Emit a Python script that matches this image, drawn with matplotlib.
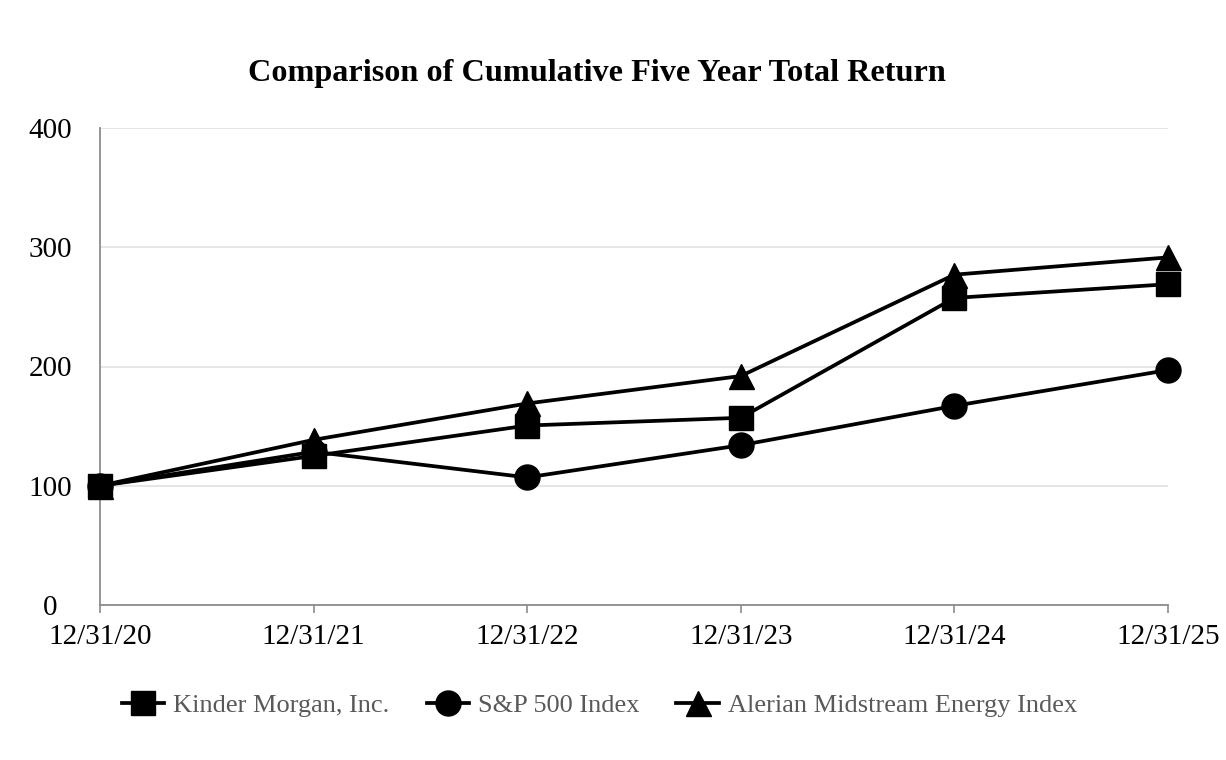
import matplotlib.pyplot as plt

# data
dates = ['12/31/20', '12/31/21', '12/31/22', '12/31/23', '12/31/24', '12/31/25']
kinder_morgan = [100, 125, 150.5, 157, 257.5, 269]
sp500 = [100, 128.5, 107, 134, 167, 197]
alerian = [100, 138.5, 169, 192, 277, 291.5]

plt.rcParams['font.family'] = ['Liberation Serif', 'DejaVu Serif']

fig = plt.figure(figsize=(12.26, 7.6), dpi=100)
ax = fig.add_axes([100 / 1226, 1 - 605 / 760, 1068 / 1226, 477 / 760])

x = list(range(len(dates)))
# Alerian drawn first so the Kinder Morgan squares sit on top, as in the source
h_al, = ax.plot(x, alerian, color='black', lw=2.7, marker='^', ms=18,
                label='Alerian Midstream Energy Index', zorder=3, clip_on=False)
h_sp, = ax.plot(x, sp500, color='black', lw=2.7, marker='o', ms=18,
                label='S&P 500 Index', zorder=3, clip_on=False)
h_km, = ax.plot(x, kinder_morgan, color='black', lw=2.7, marker='s', ms=17,
                label='Kinder Morgan, Inc.', zorder=3, clip_on=False)

ax.set_xlim(0, len(dates) - 1)
ax.set_ylim(0, 400)
ax.set_yticks([0, 100, 200, 300, 400])
ax.set_xticks(x)
ax.set_xticklabels(dates)

ax.grid(axis='y', color='#e0e0e0', lw=1.2)
ax.set_axisbelow(True)
for s in ['top', 'right']:
    ax.spines[s].set_visible(False)
ax.spines['left'].set_color('#8c8c8c')
ax.spines['bottom'].set_color('#8c8c8c')
ax.spines['left'].set_linewidth(1.3)
ax.spines['bottom'].set_linewidth(1.3)

ax.tick_params(axis='y', length=0, pad=36, labelsize=21)
for lab in ax.get_yticklabels():
    lab.set_horizontalalignment('center')
ax.tick_params(axis='x', length=6, width=1.2, color='#8c8c8c', pad=8, labelsize=21)

fig.text(0.487, 1 - 74 / 760, 'Comparison of Cumulative Five Year Total Return',
         ha='center', va='center', fontsize=23.2, fontweight='bold')

leg = fig.legend(handles=[h_km, h_sp, h_al], loc='center',
                 bbox_to_anchor=(0.489, 1 - 705 / 760), ncol=3,
                 frameon=False, fontsize=19, handlelength=1.6, columnspacing=1.4,
                 handletextpad=0.35, markerscale=1.0)
for t in leg.get_texts():
    t.set_color('#595959')

fig.savefig('out.png', dpi=100)
